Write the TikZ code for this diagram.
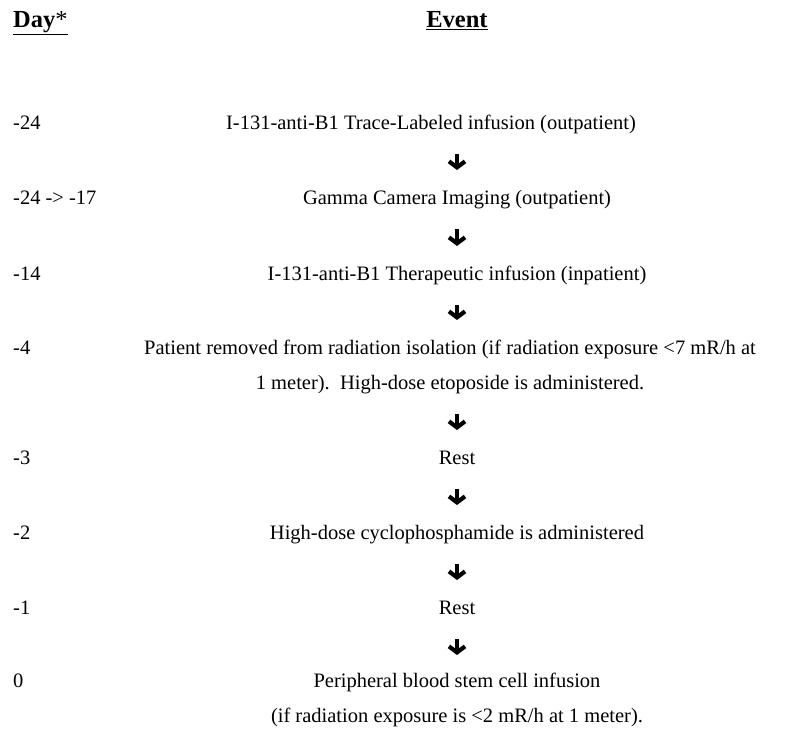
\documentclass[tikz,border=0pt]{standalone}
\usepackage{fontspec}
\setmainfont{Liberation Serif}
\usetikzlibrary{arrows.meta}

\tikzset{
  daylabel/.style={anchor=mid west, inner sep=0pt},
  eventtext/.style={anchor=mid, inner sep=0pt, align=center},
  headtext/.style={inner sep=0pt, font=\fontsize{24.5}{30}\selectfont},
  flowarrow/.style={line width=4.2pt, shorten <=27pt, shorten >=32pt,
    -{Straight Barb[length=6pt,width=16pt]}},
}

\begin{document}
\begin{tikzpicture}[x=1pt, y=1pt, font=\fontsize{20.5}{35}\selectfont]
  \useasboundingbox (0,0) rectangle (792,-731);
  % column headings
  \node[headtext, anchor=mid west] (dayhead) at (13,-25) {\underline{\textbf{Day}*}};
  \node[headtext, anchor=mid] (eventhead) at (457,-25) {\underline{\textbf{Event}}};
  % days
  \node[daylabel] (d1) at (13,-127) {-24};
  \node[daylabel] (d2) at (13,-202) {-24 -> -17};
  \node[daylabel] (d3) at (13,-278) {-14};
  \node[daylabel] (d4) at (13,-352) {-4};
  \node[daylabel] (d5) at (13,-462) {-3};
  \node[daylabel] (d6) at (13,-537) {-2};
  \node[daylabel] (d7) at (13,-612) {-1};
  \node[daylabel] (d8) at (13,-685) {0};
  % events (two-line nodes sit on their last line)
  \node[eventtext] (e1) at (431,-127) {I-131-anti-B1 Trace-Labeled infusion (outpatient)};
  \node[eventtext] (e2) at (457,-202) {Gamma Camera Imaging (outpatient)};
  \node[eventtext] (e3) at (457,-278) {I-131-anti-B1 Therapeutic infusion (inpatient)};
  \node[eventtext] (e4) at (450,-387) {Patient removed from radiation isolation (if radiation exposure <7 mR/h at\\
    1 meter).\ \ High-dose etoposide is administered.};
  \node[eventtext] (e5) at (457,-462) {Rest};
  \node[eventtext] (e6) at (457,-537) {High-dose cyclophosphamide is administered};
  \node[eventtext] (e7) at (457,-612) {Rest};
  \node[eventtext] (e8) at (457,-720) {Peripheral blood stem cell infusion\\
    (if radiation exposure is <2 mR/h at 1 meter).};
  % arrows
  \draw[flowarrow] (e1.mid -| eventhead) -- (e2.mid -| eventhead);
  \draw[flowarrow] (e2.mid -| eventhead) -- (e3.mid -| eventhead);
  \draw[flowarrow, shorten >=67pt] (e3.mid -| eventhead) -- (e4.mid -| eventhead);
  \draw[flowarrow] (e4.mid -| eventhead) -- (e5.mid -| eventhead);
  \draw[flowarrow] (e5.mid -| eventhead) -- (e6.mid -| eventhead);
  \draw[flowarrow] (e6.mid -| eventhead) -- (e7.mid -| eventhead);
  \draw[flowarrow, shorten >=65pt] (e7.mid -| eventhead) -- (e8.mid -| eventhead);
\end{tikzpicture}
\end{document}
